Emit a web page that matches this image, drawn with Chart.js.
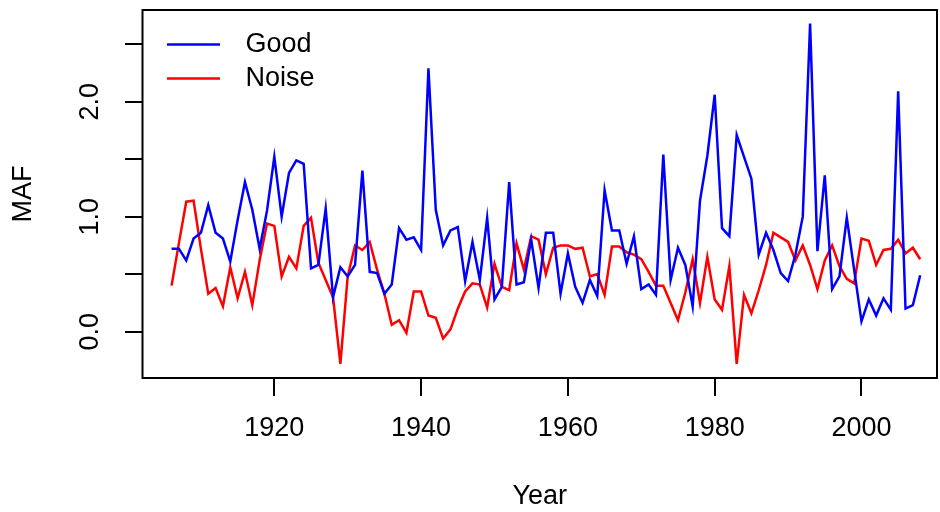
<!DOCTYPE html>
<html>
<head>
<meta charset="utf-8">
<script src="https://cdn.jsdelivr.net/npm/chart.js@4/dist/chart.umd.min.js"></script>
<style>
  body { margin: 0; background: #fff; }
  #wrap { width: 940px; height: 512px; }
</style>
</head>
<body>
<div id="wrap"><canvas id="canvasMaf" width="940" height="512"></canvas></div>
<script>
// yearly series, 1906 .. 2008
var startYear = 1906;
var good = [
  0.72, 0.72, 0.62, 0.81, 0.86, 1.10, 0.86, 0.81, 0.61, 0.97,
  1.30, 1.06, 0.72, 1.05, 1.52, 1.00, 1.38, 1.49, 1.46, 0.55,
  0.58, 1.07, 0.30, 0.56, 0.48, 0.58, 1.40, 0.52, 0.51, 0.33,
  0.41, 0.90, 0.80, 0.82, 0.71, 2.29, 1.06, 0.75, 0.88, 0.91,
  0.44, 0.78, 0.45, 0.99, 0.28, 0.39, 1.30, 0.41, 0.43, 0.80,
  0.38, 0.86, 0.86, 0.33, 0.68, 0.39, 0.25, 0.45, 0.31, 1.23,
  0.88, 0.88, 0.59, 0.83, 0.37, 0.41, 0.32, 1.54, 0.45, 0.73,
  0.58, 0.22, 1.14, 1.53, 2.06, 0.90, 0.83, 1.71, 1.52, 1.33,
  0.67, 0.86, 0.71, 0.51, 0.44, 0.67, 1.00, 2.68, 0.70, 1.36,
  0.37, 0.48, 0.99, 0.54, 0.09, 0.28, 0.14, 0.29, 0.19, 2.09,
  0.20, 0.23, 0.49
];
var noise = [
  0.40, 0.77, 1.13, 1.14, 0.72, 0.33, 0.38, 0.22, 0.56, 0.29,
  0.52, 0.23, 0.62, 0.94, 0.92, 0.48, 0.65, 0.55, 0.92, 0.99,
  0.60, 0.45, 0.30, -0.28, 0.48, 0.75, 0.71, 0.78, 0.54, 0.33,
  0.06, 0.10, -0.01, 0.35, 0.35, 0.14, 0.12, -0.06, 0.02, 0.20,
  0.35, 0.42, 0.41, 0.21, 0.59, 0.39, 0.36, 0.77, 0.54, 0.83,
  0.80, 0.50, 0.73, 0.75, 0.75, 0.72, 0.73, 0.48, 0.50, 0.32,
  0.74, 0.74, 0.69, 0.67, 0.63, 0.52, 0.40, 0.40, 0.25, 0.10,
  0.34, 0.63, 0.25, 0.65, 0.28, 0.19, 0.57, -0.28, 0.32, 0.16,
  0.36, 0.58, 0.86, 0.82, 0.78, 0.62, 0.75, 0.58, 0.37, 0.62,
  0.75, 0.57, 0.46, 0.42, 0.81, 0.79, 0.58, 0.71, 0.72, 0.80,
  0.68, 0.73, 0.63
];
var xTicks = [1920, 1940, 1960, 1980, 2000];
var yTicks = [0, 0.5, 1, 1.5, 2, 2.5];
var yLabels = {0: "0.0", 1: "1.0", 2: "2.0"};

var FONT = "'Liberation Sans', Arial, sans-serif";
var FS = 27;

function points(values) {
  var out = [];
  for (var i = 0; i < values.length; i++) {
    out.push({x: startYear + i, y: values[i]});
  }
  return out;
}

// frame round the plot region and the legend in its top left corner
var rFrame = {
  id: "rFrame",
  afterDraw: function(chart) {
    var a = chart.chartArea;
    var ctx = chart.ctx;
    ctx.save();
    ctx.strokeStyle = "#000";
    ctx.lineWidth = 2;
    ctx.strokeRect(a.left, a.top, a.right - a.left, a.bottom - a.top);
    ctx.font = FS + "px " + FONT;
    ctx.textBaseline = "middle";
    ctx.textAlign = "left";
    chart.data.datasets.forEach(function(ds, i) {
      var y = a.top + 34.5 + i * 34;
      ctx.strokeStyle = ds.borderColor;
      ctx.lineWidth = ds.borderWidth;
      ctx.beginPath();
      ctx.moveTo(a.left + 24.5, y);
      ctx.lineTo(a.left + 77.5, y);
      ctx.stroke();
      ctx.fillStyle = "#000";
      ctx.fillText(ds.label, a.left + 103, y);
    });
    ctx.restore();
  }
};

new Chart(document.getElementById("canvasMaf"), {
  type: "line",
  data: {
    datasets: [
      {label: "Good", data: points(good), borderColor: "#0000ff", borderWidth: 2.5,
       pointRadius: 0, tension: 0, fill: false},
      {label: "Noise", data: points(noise), borderColor: "#ff0000", borderWidth: 2.5,
       pointRadius: 0, tension: 0, fill: false}
    ]
  },
  options: {
    responsive: false,
    animation: false,
    layout: {padding: {top: 10, right: 3, left: 0, bottom: 0}},
    plugins: {legend: {display: false}, tooltip: {enabled: false}},
    scales: {
      x: {
        type: "linear",
        min: 1902.04,
        max: 2010.29,
        afterBuildTicks: function(s) { s.ticks = xTicks.map(function(v) { return {value: v}; }); },
        afterFit: function(s) { s.height = 134; s.paddingLeft = 0; s.paddingRight = 0; },
        border: {display: false},
        grid: {drawOnChartArea: false, tickLength: 18, color: "#000", lineWidth: 2},
        ticks: {color: "#000", padding: 16, maxRotation: 0, autoSkip: false,
                font: {family: FONT, size: FS},
                callback: function(v) { return String(v); }},
        title: {display: true, text: "Year", color: "#000",
                font: {family: FONT, size: FS, lineHeight: 1}, padding: {bottom: 2}}
      },
      y: {
        min: -0.403,
        max: 2.797,
        afterBuildTicks: function(s) { s.ticks = yTicks.map(function(v) { return {value: v}; }); },
        afterFit: function(s) { s.width = 142.5; s.paddingTop = 0; s.paddingBottom = 0; },
        border: {display: false},
        grid: {drawOnChartArea: false, tickLength: 17.5, color: "#000", lineWidth: 2},
        ticks: {color: "#000", padding: 16, minRotation: 90, maxRotation: 90, crossAlign: "center",
                autoSkip: false, font: {family: FONT, size: FS},
                callback: function(v) { return yLabels[v] !== undefined ? yLabels[v] : ""; }},
        title: {display: true, text: "MAF", color: "#000",
                font: {family: FONT, size: FS, lineHeight: 1}, padding: {top: 10}}
      }
    }
  },
  plugins: [rFrame]
});
</script>
</body>
</html>
